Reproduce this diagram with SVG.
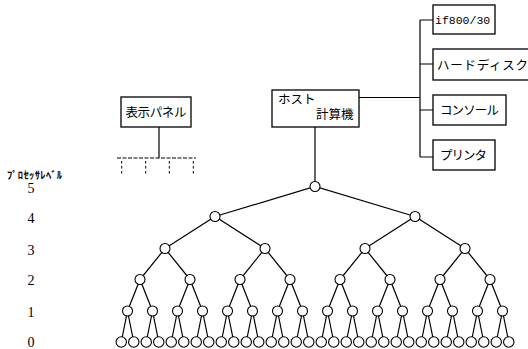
<svg xmlns="http://www.w3.org/2000/svg" width="528" height="349" viewBox="0 0 528 349">
<style>
.ln{fill:none;stroke:#000;stroke-width:1.2}
.bx{fill:#fff;stroke:#000;stroke-width:1.3}
.nd{fill:#fff;stroke:#000;stroke-width:1.1}
.jp{font-family:"Noto Sans CJK JP","Noto Sans",sans-serif;font-size:12.5px;fill:#000}
.mono{font-family:"Liberation Mono","DejaVu Sans Mono",monospace;font-size:11.5px;fill:#000}
.num{font-family:"Liberation Serif",serif;font-size:14px;fill:#000;text-anchor:middle}
.dash{fill:none;stroke:#000;stroke-width:1;stroke-dasharray:4 1.5}
.vd{fill:none;stroke:#000;stroke-width:1;stroke-dasharray:2.5 2.5}
</style>
<rect width="528" height="349" fill="#fff"/>
<g id="connectors">
<path class="ln" d="M359 97.5 H420 M420 20 V157 M420 20 H433 M420 64 H433 M420 110 H433 M420 157 H433"/>
<path class="ln" d="M315 127 V186.5"/>
<path class="ln" d="M159 127 V158"/>
<path class="dash" d="M117 158 H196"/>
<path class="vd" d="M121.7 161 V174 M145.7 161 V174 M169.3 161 V174 M193.3 161 V174"/>
<path class="ln" d="M215 216.5 L315 186.5 L415 216.5
M165 248.5 L215 216.5 L265 248.5 M365 248.5 L415 216.5 L465 248.5
M140 279.5 L165 248.5 L190 279.5 M240 279.5 L265 248.5 L290 279.5 M340 279.5 L365 248.5 L390 279.5 M440 279.5 L465 248.5 L490 279.5
M127.5 311 L140 279.5 L152.5 311 M177.5 311 L190 279.5 L202.5 311 M227.5 311 L240 279.5 L252.5 311 M277.5 311 L290 279.5 L302.5 311
M327.5 311 L340 279.5 L352.5 311 M377.5 311 L390 279.5 L402.5 311 M427.5 311 L440 279.5 L452.5 311 M477.5 311 L490 279.5 L502.5 311
M121.25 342 L127.5 311 L133.75 342 M146.25 342 L152.5 311 L158.75 342 M171.25 342 L177.5 311 L183.75 342 M196.25 342 L202.5 311 L208.75 342
M221.25 342 L227.5 311 L233.75 342 M246.25 342 L252.5 311 L258.75 342 M271.25 342 L277.5 311 L283.75 342 M296.25 342 L302.5 311 L308.75 342
M321.25 342 L327.5 311 L333.75 342 M346.25 342 L352.5 311 L358.75 342 M371.25 342 L377.5 311 L383.75 342 M396.25 342 L402.5 311 L408.75 342
M421.25 342 L427.5 311 L433.75 342 M446.25 342 L452.5 311 L458.75 342 M471.25 342 L477.5 311 L483.75 342 M496.25 342 L502.5 311 L508.75 342"/>
</g>
<g id="host">
<rect class="bx" x="272" y="90" width="87" height="37"/>
<text class="jp" x="278" y="104">ホスト</text>
<text class="jp" x="316" y="119">計算機</text>
</g>
<g id="panel">
<rect class="bx" x="121" y="97" width="70" height="30"/>
<text class="jp" x="125.5" y="117" textLength="61">表示パネル</text>
</g>
<g id="if800">
<rect class="bx" x="433" y="5" width="62" height="29"/>
<text class="mono" x="435" y="23.5">if800/30</text>
</g>
<g id="disk">
<rect class="bx" x="433" y="49" width="100" height="31"/>
<text class="jp" x="437" y="70" textLength="91">ハードディスク</text>
</g>
<g id="console">
<rect class="bx" x="433" y="95" width="73" height="30"/>
<text class="jp" x="440" y="115" textLength="59">コンソール</text>
</g>
<g id="printer">
<rect class="bx" x="433" y="140" width="62" height="30"/>
<text class="jp" x="440" y="160" textLength="47">プリンタ</text>
</g>
<g id="levels">
<text x="7" y="179" font-family="'Noto Sans CJK JP',sans-serif" font-size="10.5" font-weight="bold" textLength="55">ﾌﾟﾛｾｯｻﾚﾍﾞﾙ</text>
<text class="num" x="31" y="193">5</text>
<text class="num" x="31" y="223">4</text>
<text class="num" x="31" y="255">3</text>
<text class="num" x="31" y="285">2</text>
<text class="num" x="31" y="317">1</text>
<text class="num" x="31" y="347">0</text>
</g>
<g id="nodes">
<circle class="nd" cx="315" cy="186.5" r="5"/>
<circle class="nd" cx="215" cy="216.5" r="5"/><circle class="nd" cx="415" cy="216.5" r="5"/>
<circle class="nd" cx="165" cy="248.5" r="5"/><circle class="nd" cx="265" cy="248.5" r="5"/><circle class="nd" cx="365" cy="248.5" r="5"/><circle class="nd" cx="465" cy="248.5" r="5"/>
<circle class="nd" cx="140" cy="279.5" r="5"/><circle class="nd" cx="190" cy="279.5" r="5"/><circle class="nd" cx="240" cy="279.5" r="5"/><circle class="nd" cx="290" cy="279.5" r="5"/>
<circle class="nd" cx="340" cy="279.5" r="5"/><circle class="nd" cx="390" cy="279.5" r="5"/><circle class="nd" cx="440" cy="279.5" r="5"/><circle class="nd" cx="490" cy="279.5" r="5"/>
<circle class="nd" cx="127.5" cy="311" r="5"/><circle class="nd" cx="152.5" cy="311" r="5"/><circle class="nd" cx="177.5" cy="311" r="5"/><circle class="nd" cx="202.5" cy="311" r="5"/>
<circle class="nd" cx="227.5" cy="311" r="5"/><circle class="nd" cx="252.5" cy="311" r="5"/><circle class="nd" cx="277.5" cy="311" r="5"/><circle class="nd" cx="302.5" cy="311" r="5"/>
<circle class="nd" cx="327.5" cy="311" r="5"/><circle class="nd" cx="352.5" cy="311" r="5"/><circle class="nd" cx="377.5" cy="311" r="5"/><circle class="nd" cx="402.5" cy="311" r="5"/>
<circle class="nd" cx="427.5" cy="311" r="5"/><circle class="nd" cx="452.5" cy="311" r="5"/><circle class="nd" cx="477.5" cy="311" r="5"/><circle class="nd" cx="502.5" cy="311" r="5"/>
<circle class="nd" cx="121.25" cy="342" r="5.2"/><circle class="nd" cx="133.75" cy="342" r="5.2"/><circle class="nd" cx="146.25" cy="342" r="5.2"/><circle class="nd" cx="158.75" cy="342" r="5.2"/>
<circle class="nd" cx="171.25" cy="342" r="5.2"/><circle class="nd" cx="183.75" cy="342" r="5.2"/><circle class="nd" cx="196.25" cy="342" r="5.2"/><circle class="nd" cx="208.75" cy="342" r="5.2"/>
<circle class="nd" cx="221.25" cy="342" r="5.2"/><circle class="nd" cx="233.75" cy="342" r="5.2"/><circle class="nd" cx="246.25" cy="342" r="5.2"/><circle class="nd" cx="258.75" cy="342" r="5.2"/>
<circle class="nd" cx="271.25" cy="342" r="5.2"/><circle class="nd" cx="283.75" cy="342" r="5.2"/><circle class="nd" cx="296.25" cy="342" r="5.2"/><circle class="nd" cx="308.75" cy="342" r="5.2"/>
<circle class="nd" cx="321.25" cy="342" r="5.2"/><circle class="nd" cx="333.75" cy="342" r="5.2"/><circle class="nd" cx="346.25" cy="342" r="5.2"/><circle class="nd" cx="358.75" cy="342" r="5.2"/>
<circle class="nd" cx="371.25" cy="342" r="5.2"/><circle class="nd" cx="383.75" cy="342" r="5.2"/><circle class="nd" cx="396.25" cy="342" r="5.2"/><circle class="nd" cx="408.75" cy="342" r="5.2"/>
<circle class="nd" cx="421.25" cy="342" r="5.2"/><circle class="nd" cx="433.75" cy="342" r="5.2"/><circle class="nd" cx="446.25" cy="342" r="5.2"/><circle class="nd" cx="458.75" cy="342" r="5.2"/>
<circle class="nd" cx="471.25" cy="342" r="5.2"/><circle class="nd" cx="483.75" cy="342" r="5.2"/><circle class="nd" cx="496.25" cy="342" r="5.2"/><circle class="nd" cx="508.75" cy="342" r="5.2"/>
</g>
</svg>
